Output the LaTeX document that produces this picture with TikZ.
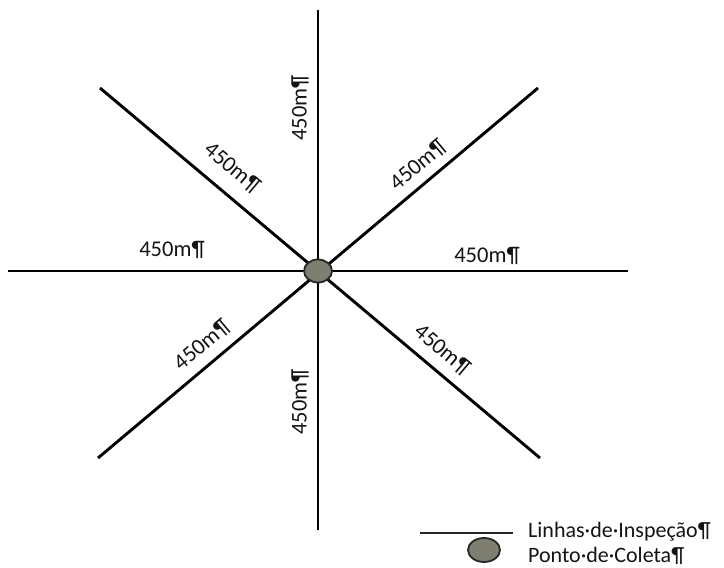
\documentclass[tikz,border=0pt]{standalone}
\usepackage{fontspec}
\setmainfont{Carlito}
\usetikzlibrary{shapes.geometric}
\definecolor{ptgray}{HTML}{7E7F70}
\definecolor{txt}{HTML}{141414}
\begin{document}
\begin{tikzpicture}[x=1pt,y=1pt,
  ray/.style={line width=2.9pt,black},
  lbl/.style={font=\fontsize{22.5}{24}\selectfont,text=txt,inner sep=0pt},
  leg/.style={font=\fontsize{22}{24}\selectfont,text=txt,inner sep=0pt,anchor=base west},
  pt/.style={ellipse,draw=black!85,line width=1.8pt,fill=ptgray,minimum width=28pt,minimum height=23pt,inner sep=0pt}]
\useasboundingbox (0,0) rectangle (724,568);
\coordinate (c) at (318,297);
\coordinate (n) at (318,558);
\coordinate (s) at (318,38);
\coordinate (w) at (8,297);
\coordinate (e) at (628,297);
\coordinate (nw) at (100,480);
\coordinate (ne) at (538,480);
\coordinate (sw) at (98,110);
\coordinate (se) at (540,110);
% labels
\node[lbl,rotate=90] (ln) at (300,460) {450m¶};
\node[lbl,rotate=90] (ls) at (300,166) {450m¶};
\node[lbl] (lw) at (172,318) {450m¶};
\node[lbl] (le) at (487,312) {450m¶};
\node[lbl,rotate=-40] (lnw) at (232,400) {450m¶};
\node[lbl,rotate=40] (lne) at (418,403) {450m¶};
\node[lbl,rotate=40] (lsw) at (202,223) {450m¶};
\node[lbl,rotate=-40] (lse) at (442,218) {450m¶};
% rays
\draw[ray] (n) -- (s);
\draw[ray] (w) -- (e);
\draw[ray] (nw) -- (se);
\draw[ray] (ne) -- (sw);
\node[pt] (centre) at (c) {};
% legend
\coordinate (la) at (420,35);
\coordinate (lb) at (513,35);
\draw[line width=2.9pt,black!85] (la) -- (lb);
\node[pt,minimum width=32pt,minimum height=24pt] (lpt) at (484,18) {};
\node[leg] (t1) at (528,30) {Linhas·de·Inspeção¶};
\node[leg] (t2) at (528,5) {Ponto·de·Coleta¶};
\end{tikzpicture}
\end{document}
